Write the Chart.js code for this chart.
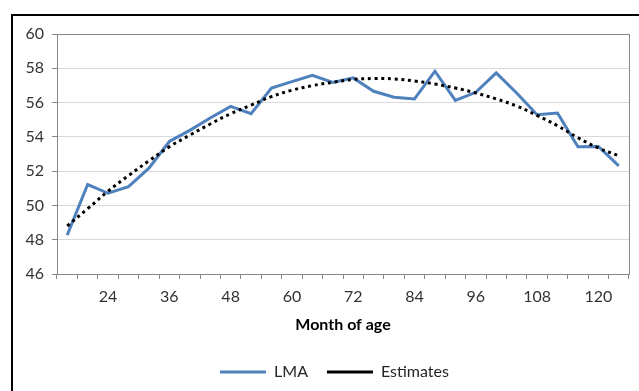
<!DOCTYPE html>
<html>
<head>
<meta charset="utf-8">
<script src="https://cdn.jsdelivr.net/npm/chart.js@4/dist/chart.umd.min.js"></script>
<style>
  html, body { margin: 0; padding: 0; background: #fff; overflow: hidden; }
  #wrap { position: relative; width: 639px; height: 391px; }
  #frame { position: absolute; left: 11px; top: 14px; width: 700px; height: 500px; border: 2px solid #000; }
  #chartBox { position: absolute; left: 0; top: 0; width: 639px; height: 391px; }
</style>
</head>
<body>
<div id="wrap">
  <div id="frame"></div>
  <div id="chartBox"><canvas id="lmaChart"></canvas></div>
</div>
<script>
// month of age, one point every 4 months
const months = [16, 20, 24, 28, 32, 36, 40, 44, 48, 52, 56, 60, 64, 68,
                72, 76, 80, 84, 88, 92, 96, 100, 104, 108, 112, 116, 120, 124]
const lma = [48.27, 51.22, 50.71, 51.1, 52.17, 53.73, 54.38, 55.1, 55.78, 55.35, 56.85, 57.22, 57.59, 57.18,
             57.44, 56.66, 56.31, 56.21, 57.83, 56.13, 56.6, 57.73, 56.56, 55.29, 55.39, 53.42, 53.44, 52.31]
const estimates = [48.8, 49.81, 50.83, 51.74, 52.6, 53.42, 54.1, 54.75, 55.35, 55.85, 56.35, 56.72, 56.99, 57.18,
                   57.35, 57.4, 57.38, 57.26, 57.08, 56.85, 56.56, 56.21, 55.8, 55.25, 54.65, 53.95, 53.35, 52.9]
const yMin = 46, yMax = 60, yStep = 2

const font = 'Lato'

// thin gray border round the plot area (top and right edges)
const plotBorder = {
  id: 'plotBorder',
  beforeDatasetsDraw (chart) {
    const a = chart.chartArea
    const ctx = chart.ctx
    ctx.save()
    ctx.strokeStyle = '#868686'
    ctx.lineWidth = 1
    ctx.strokeRect(Math.round(a.left) + 0.5, Math.round(a.top) + 0.5, Math.round(a.right - a.left), Math.round(a.bottom - a.top))
    ctx.restore()
  }
}

const ctx = document.getElementById('lmaChart')
const myChart = new Chart(ctx, {
  type: 'line',
  data: {
    labels: months,
    datasets: [{
      label: 'LMA',
      data: lma,
      borderColor: '#4F81BD',
      backgroundColor: '#4F81BD',
      borderWidth: 3,
      pointRadius: 0,
      tension: 0,
      order: 1
    }, {
      label: 'Estimates',
      data: estimates,
      borderColor: '#000000',
      backgroundColor: '#000000',
      borderWidth: 3,
      borderDash: [3, 3.7],
      pointRadius: 0,
      tension: 0.4,
      order: 0,
      yAxisID: 'y'
    }]
  },
  plugins: [plotBorder],
  options: {
    responsive: true,
    maintainAspectRatio: false,
    animation: false,
    // negative right padding + blank right axis keeps the legend centred like the original
    layout: { padding: { left: 24, right: -6, top: 34, bottom: 1 } },
    plugins: {
      tooltip: { enabled: false },
      legend: {
        position: 'bottom',
        labels: {
          usePointStyle: true,
          pointStyle: 'line',
          pointStyleWidth: 46,
          padding: 19,
          color: '#262626',
          font: { family: font, size: 16 },
          sort: (a, b) => a.datasetIndex - b.datasetIndex
        }
      }
    },
    scales: {
      x: {
        offset: true,
        grid: {
          offset: true,
          drawOnChartArea: false,
          drawTicks: true,
          tickLength: 5,
          tickColor: '#868686'
        },
        border: { color: '#868686', width: 1 },
        ticks: {
          autoSkip: false,
          maxRotation: 0,
          padding: 8,
          color: '#333',
          font: { family: font, size: 16 },
          callback (value, index) {
            const m = months[index]
            return m % 12 === 0 ? String(m) : ''
          }
        },
        title: {
          display: true,
          text: 'Month of age',
          color: '#000',
          font: { family: font, size: 16, weight: 'bold' },
          padding: { top: 4, bottom: 11 }
        },
        afterFit (scale) { scale.height = 71 }
      },
      y: {
        min: yMin,
        max: yMax,
        grid: {
          color: '#d9d9d9',
          tickColor: '#868686',
          tickLength: 5
        },
        border: { color: '#000', width: 1 },
        ticks: {
          stepSize: yStep,
          padding: 8,
          color: '#333',
          font: { family: font, size: 16 }
        },
        afterFit (scale) { scale.width = 33 }
      },
      yBlank: {
        position: 'right',
        min: yMin,
        max: yMax,
        grid: { display: false },
        border: { display: false },
        ticks: { display: false },
        afterFit (scale) { scale.width = 16 }
      }
    }
  }
})
</script>
</body>
</html>
